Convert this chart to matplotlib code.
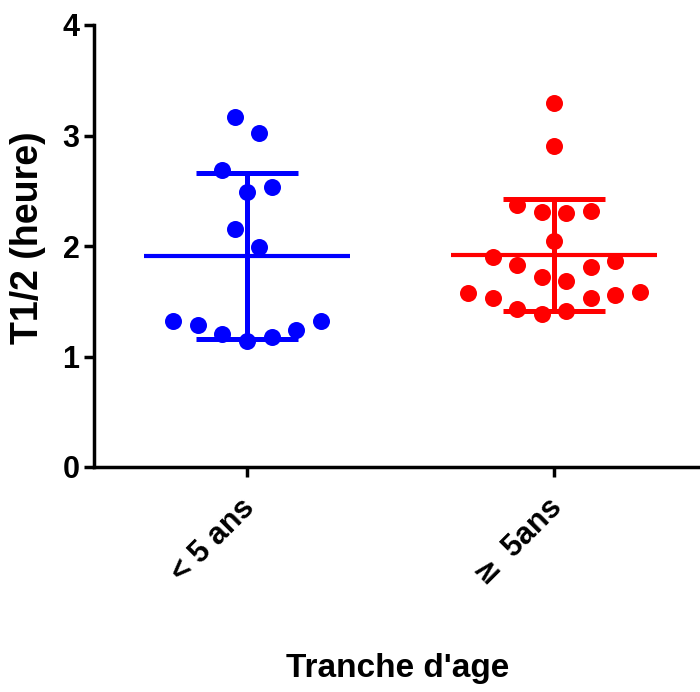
import numpy as np
import matplotlib
matplotlib.use("Agg")
import matplotlib.pyplot as plt
import matplotlib.transforms as mtransforms

plt.rcParams['font.family'] = ['Liberation Sans', 'DejaVu Sans']
plt.rcParams['font.weight'] = 'bold'
plt.rcParams['mathtext.fontset'] = 'dejavusans'

categories = ["< 5 ans", "≥ 5ans"]
colors = ["#0000ff", "#ff0000"]

# T1/2 values (hours)
young = [3.165, 3.02, 2.69, 2.486, 2.53, 2.15, 1.994,
         1.324, 1.282, 1.20, 1.143, 1.18, 1.24, 1.32]
old = [3.297, 2.905, 2.371, 2.31, 2.30, 2.317, 2.048,
       1.903, 1.828, 1.722, 1.686, 1.807, 1.867,
       1.572, 1.527, 1.427, 1.385, 1.415, 1.527, 1.557, 1.581]

# horizontal scatter slots (beeswarm layout), in slot units
young_slots = [-0.5, 0.5, -1, 0, 1, -0.5, 0.5, -3, -2, -1, 0, 1, 2, 3]
old_slots = [0, 0, -1.5, -0.5, 0.5, 1.5, 0, -2.5, -1.5, -0.5, 0.5, 1.5, 2.5,
             -3.5, -2.5, -1.5, -0.5, 0.5, 1.5, 2.5, 3.5]
slot_w = 0.08

groups = [young, old]
slots = [young_slots, old_slots]

W, H = 700, 692
fig = plt.figure(figsize=(W / 100, H / 100), dpi=100)
left_px, right_px, top_px, bottom_px = 93.5, 707.5, 25, 467
ax = fig.add_axes([left_px / W, 1 - bottom_px / H,
                   (right_px - left_px) / W, (bottom_px - top_px) / H])

for i, (vals, sl, c) in enumerate(zip(groups, slots, colors)):
    v = np.array(vals)
    x = i + np.array(sl) * slot_w
    ax.scatter(x, v, s=150, color=c, zorder=3, linewidths=0, clip_on=False)
    m = v.mean()
    sd = v.std(ddof=1)
    ax.plot([i - 0.335, i + 0.335], [m, m], color=c, lw=3, zorder=2,
            solid_capstyle='butt')
    ax.plot([i, i], [m - sd, m + sd], color=c, lw=3.6, zorder=2,
            solid_capstyle='butt')
    for yy in (m - sd, m + sd):
        ax.plot([i - 0.167, i + 0.167], [yy, yy], color=c, lw=3.6, zorder=2,
                solid_capstyle='butt')

ax.set_xlim(-0.5, 1.5)
ax.set_ylim(0, 4)
ax.set_yticks([0, 1, 2, 3, 4])
ax.set_xticks([0, 1])

for s in ('top', 'right'):
    ax.spines[s].set_visible(False)
for s in ('left', 'bottom'):
    ax.spines[s].set_linewidth(2.5)
ax.tick_params(axis='both', width=2.5, length=7, direction='out', pad=3)
ax.tick_params(axis='x', pad=8)

display_labels = [c.replace("≥", r"$\geq$") for c in categories]
ax.set_xticklabels(display_labels, rotation=45, ha='right', va='top',
                   rotation_mode='anchor', fontsize=22, fontweight='bold')
for lab in ax.get_yticklabels():
    lab.set_fontsize(22)
    lab.set_fontweight('bold')

shift = mtransforms.ScaledTranslation(-7 / 100, -5 / 100, fig.dpi_scale_trans)
for tick in ax.xaxis.get_major_ticks():
    tick.label1.set_transform(tick.label1.get_transform() + shift)

fig.text(28.5 / W, 1 - 238 / H, "T1/2 (heure)", rotation=90, ha='center',
         va='center', fontsize=27, fontweight='bold')
fig.text(398 / W, 1 - 668 / H, "Tranche d'age", ha='center', va='center',
         fontsize=24, fontweight='bold')

fig.savefig("out.png", dpi=100)
